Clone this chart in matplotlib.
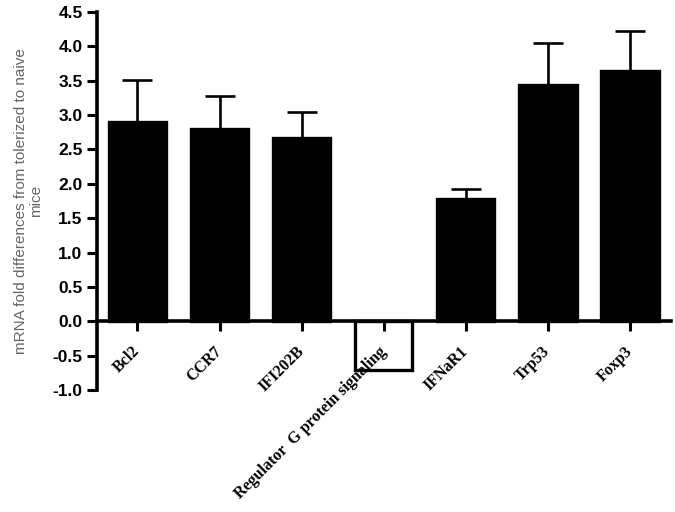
import numpy as np
import matplotlib
matplotlib.use("Agg")
import matplotlib.pyplot as plt

# data
genes = ['Bcl2', 'CCR7', 'IFI202B', 'Regulator  G protein signaling',
         'IFNaR1', 'Trp53', 'Foxp3']
fold_change = [2.90, 2.80, 2.67, -0.70, 1.78, 3.43, 3.64]
error_up = [0.61, 0.48, 0.38, 0.0, 0.14, 0.62, 0.58]
hollow = [False, False, False, True, False, False, False]

fig = plt.figure(figsize=(6.75, 5.12), dpi=100)
ax = fig.add_axes([0.144, 0.238, 0.85, 0.739])
ax.set_axisbelow(False)

x = np.arange(len(genes))
colors = ['white' if h else 'black' for h in hollow]
ax.bar(x, fold_change, width=0.70, color=colors, edgecolor='black',
       linewidth=2.4, zorder=2)

# only upper error bars are drawn
pos = [i for i in x if error_up[i] > 0]
ax.errorbar([x[i] for i in pos], [fold_change[i] for i in pos],
            yerr=[[0] * len(pos), [error_up[i] for i in pos]],
            fmt='none', ecolor='black', elinewidth=1.9, capsize=10.5,
            capthick=1.9, zorder=1)

ax.spines['top'].set_visible(False)
ax.spines['right'].set_visible(False)
ax.spines['bottom'].set_position(('data', 0))
ax.spines['left'].set_linewidth(2.6)
ax.spines['bottom'].set_linewidth(2.6)
ax.tick_params(axis='both', direction='out', length=7, width=2.2, pad=3.5)
ax.tick_params(axis='x', pad=13)

ax.set_xlim(-0.49, 6.5)
ax.set_ylim(-1.0, 4.5)
yt = np.arange(-1.0, 4.51, 0.5)
ax.set_yticks(yt)
ax.set_yticklabels(['%.1f' % v for v in yt],
                   fontfamily='Liberation Sans', fontweight='bold', fontsize=12.5)
ax.set_xticks(x)
ax.set_xticklabels(genes, rotation=45, ha='right', va='center',
                   rotation_mode='anchor',
                   fontfamily='Liberation Serif', fontweight='bold', fontsize=11.5)

ax.set_ylabel('mRNA fold differences from tolerized to naive\nmice',
              fontfamily='Liberation Sans', fontsize=11, color='#666666',
              labelpad=7, linespacing=1.05)

fig.savefig('out.png', dpi=100)
